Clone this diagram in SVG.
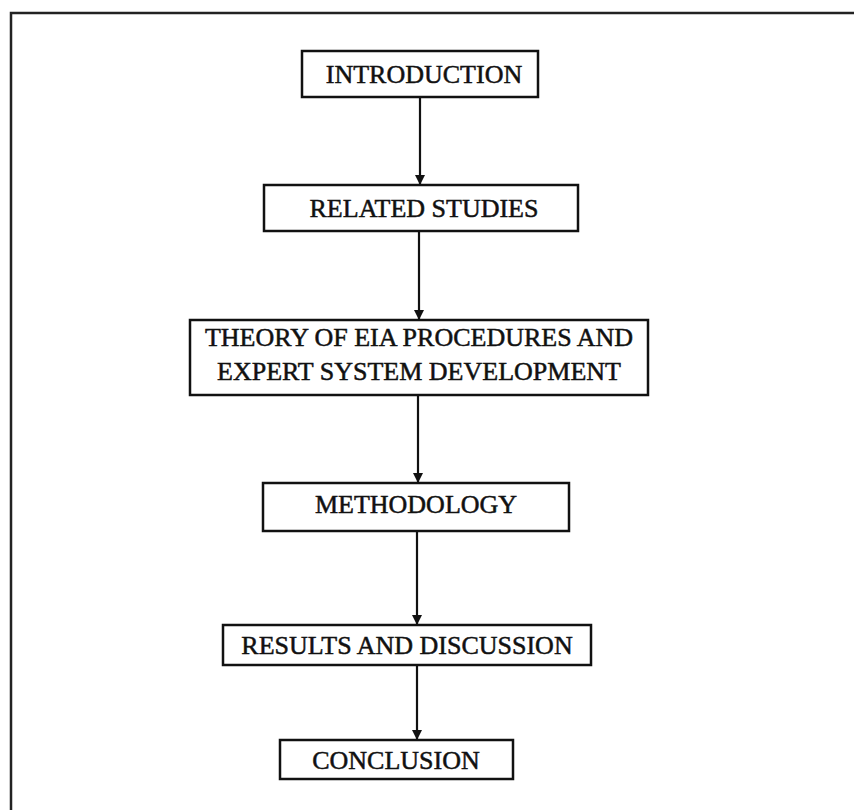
<svg xmlns="http://www.w3.org/2000/svg" width="854" height="811" viewBox="0 0 854 811">
<defs>
<marker id="ah" markerWidth="12" markerHeight="12" refX="10" refY="5" orient="auto" markerUnits="userSpaceOnUse">
<path d="M0,0 L10,5 L0,10 Z" fill="#111"/>
</marker>
<style>
.box{fill:#fff;stroke:#111;stroke-width:2.5}
.t{font-family:"Liberation Serif","Times New Roman",serif;font-size:26px;fill:#111;text-anchor:middle;stroke:#111;stroke-width:0.5}
.c{stroke:#111;stroke-width:2.2;fill:none}
.frame{stroke:#222;stroke-width:2.5;fill:none}
</style>
</defs>
<rect width="854" height="811" fill="#fff"/>
<path class="frame" d="M11,810 L11,13 L854,13"/>
<g id="connectors">
<line class="c" x1="420" y1="97" x2="420" y2="185" marker-end="url(#ah)"/>
<line class="c" x1="419" y1="231" x2="419" y2="320" marker-end="url(#ah)"/>
<line class="c" x1="418" y1="395" x2="418" y2="483" marker-end="url(#ah)"/>
<line class="c" x1="417" y1="531" x2="417" y2="625" marker-end="url(#ah)"/>
<line class="c" x1="417" y1="665" x2="417" y2="740" marker-end="url(#ah)"/>
</g>
<g id="introduction">
<rect class="box" x="302" y="51" width="236" height="46"/>
<text class="t" x="424" y="83">INTRODUCTION</text>
</g>
<g id="related-studies">
<rect class="box" x="264" y="185" width="314" height="46"/>
<text class="t" x="424" y="217">RELATED STUDIES</text>
</g>
<g id="theory">
<rect class="box" x="190" y="320" width="458" height="75"/>
<text class="t" x="419" y="346">THEORY OF EIA PROCEDURES AND</text>
<text class="t" x="419" y="380">EXPERT SYSTEM DEVELOPMENT</text>
</g>
<g id="methodology">
<rect class="box" x="263" y="483" width="306" height="48"/>
<text class="t" x="416" y="513">METHODOLOGY</text>
</g>
<g id="results">
<rect class="box" x="223" y="625" width="368" height="40"/>
<text class="t" x="407" y="654">RESULTS AND DISCUSSION</text>
</g>
<g id="conclusion">
<rect class="box" x="280" y="740" width="233" height="39"/>
<text class="t" x="396" y="769">CONCLUSION</text>
</g>
</svg>
